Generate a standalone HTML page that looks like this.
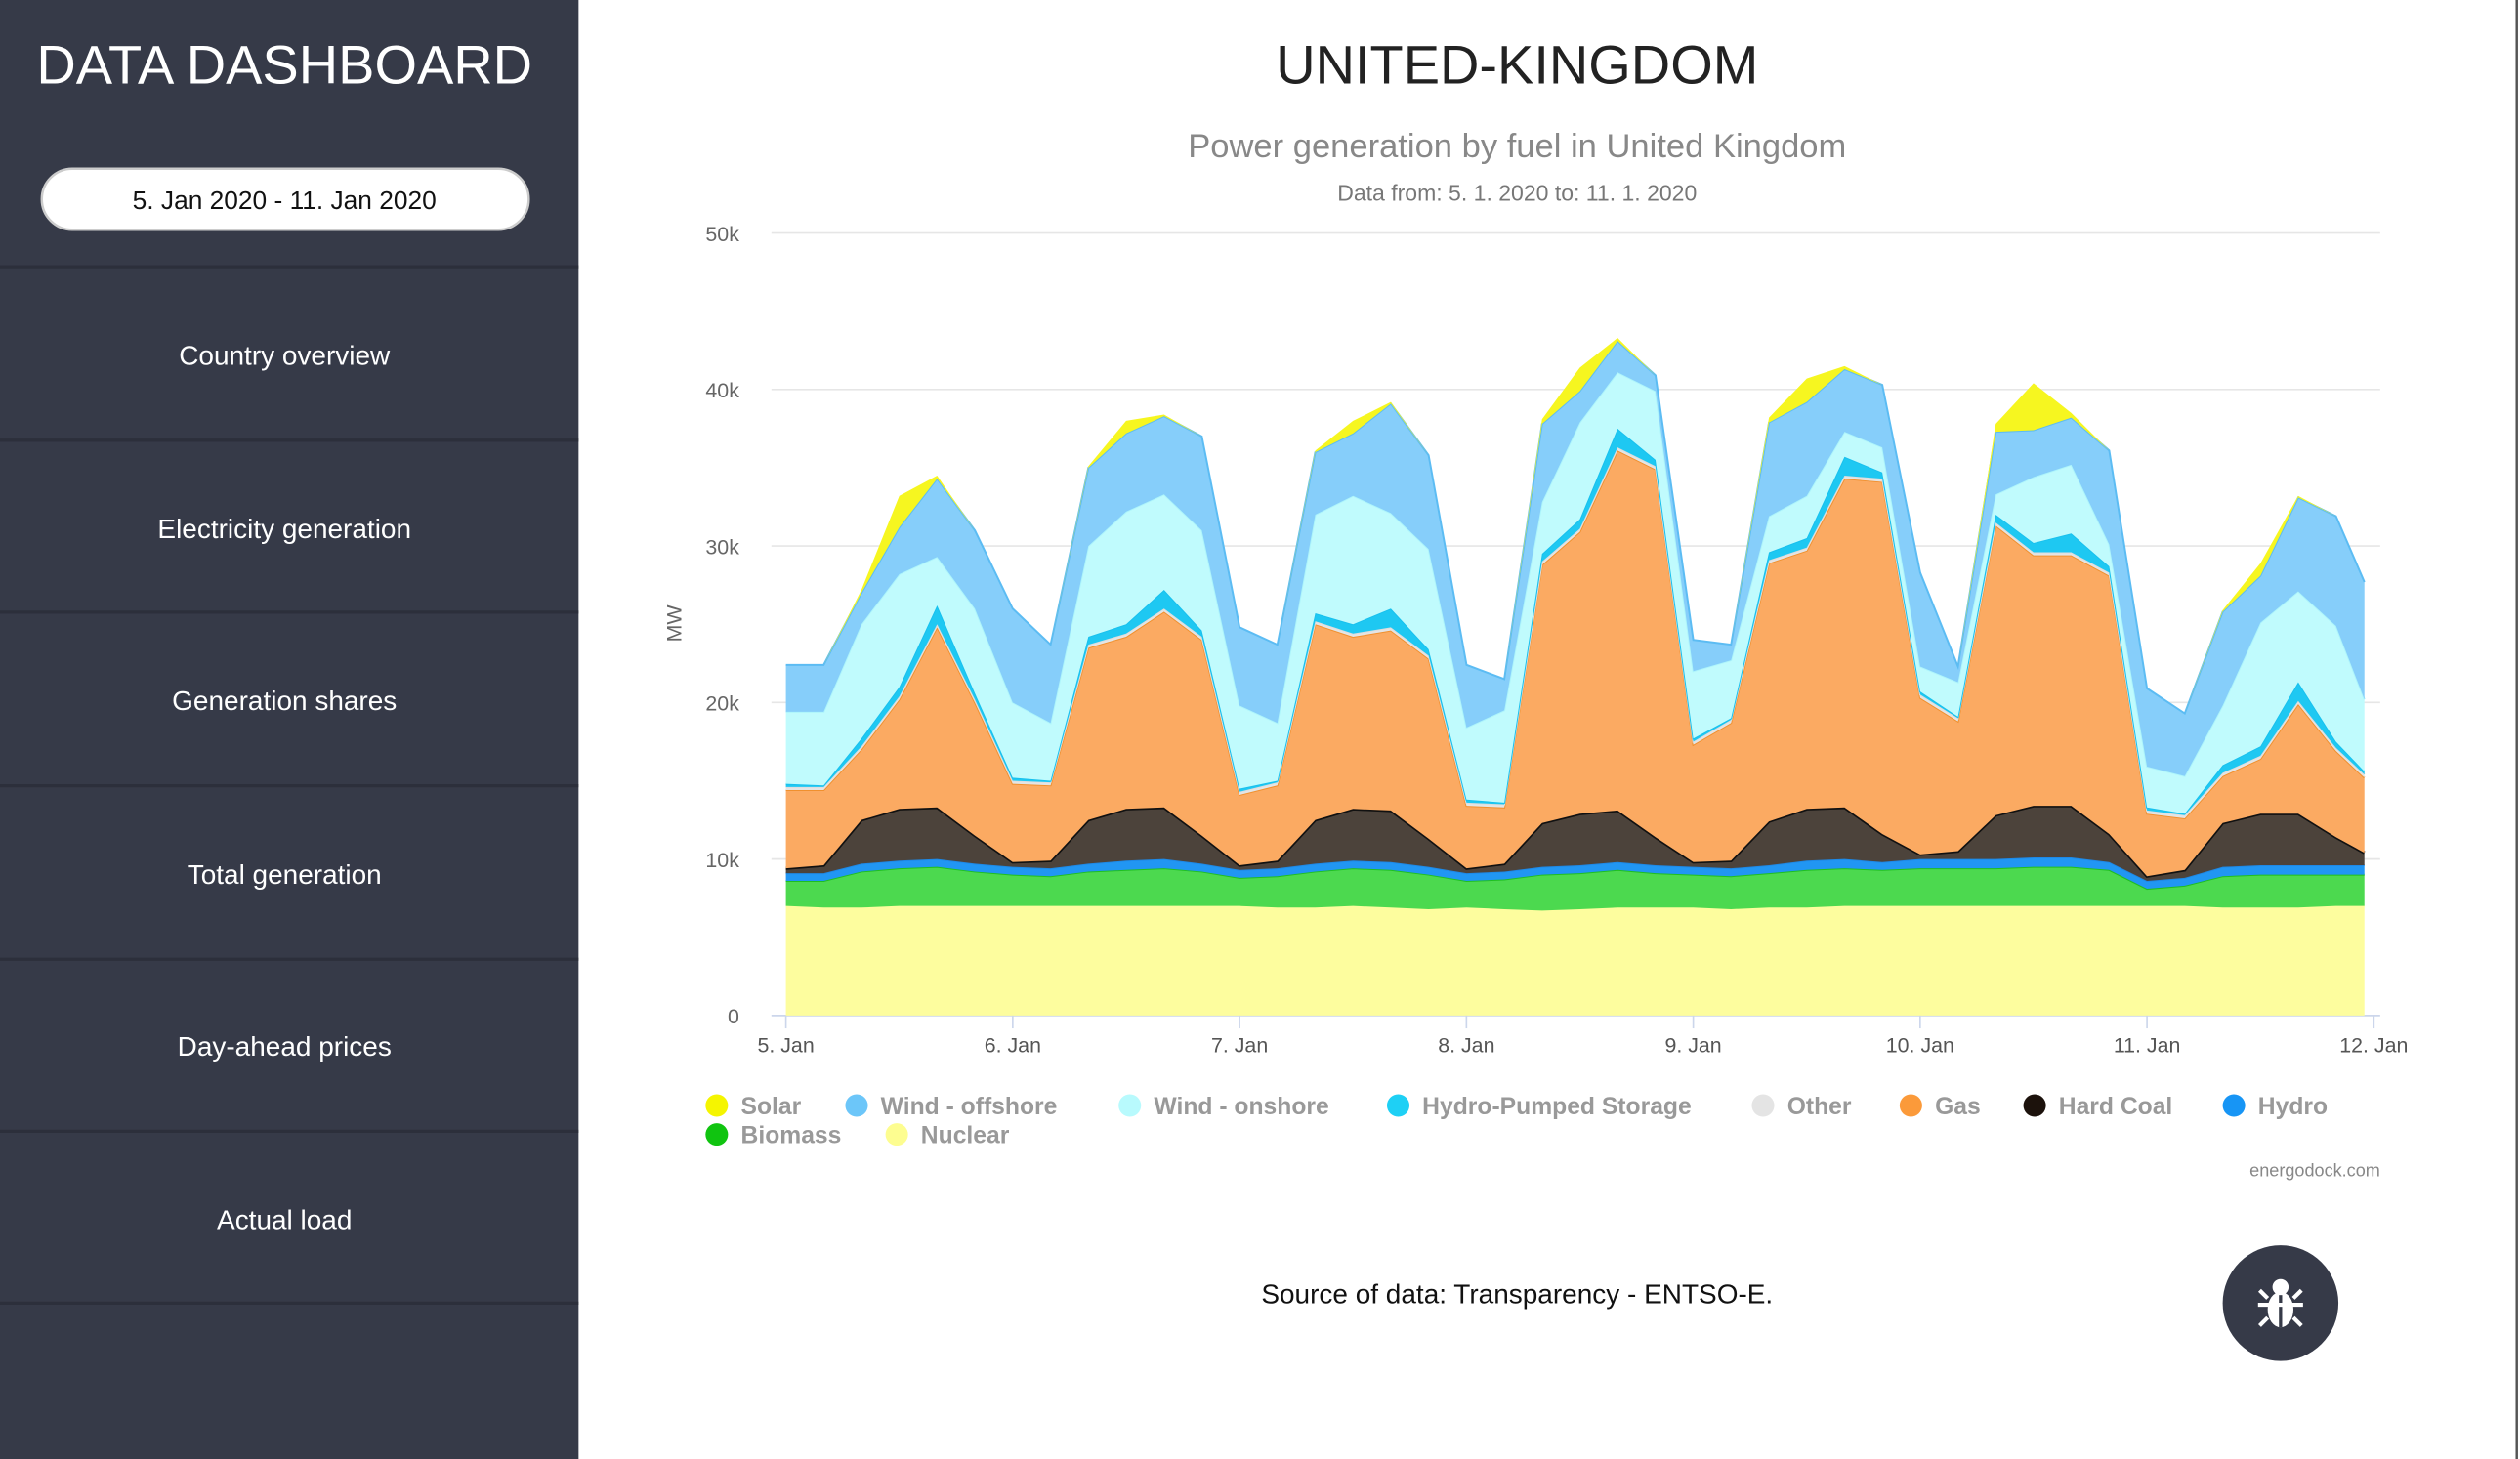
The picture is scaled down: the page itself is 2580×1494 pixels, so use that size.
<!DOCTYPE html>
<html><head><meta charset="utf-8">
<style>
html,body{margin:0;padding:0;background:#fff;}
svg{display:block;font-family:"Liberation Sans",sans-serif;}
</style></head>
<body>
<svg id="page" width="2580" height="1494" viewBox="0 0 1568 908" preserveAspectRatio="none">
  <g>
    <rect x="0" y="0" width="360" height="908" fill="#363a48"/>
    <text x="177" y="52" text-anchor="middle" font-size="34" fill="#fff">DATA DASHBOARD</text>
    <g>
      <rect x="26" y="105" width="303" height="38" rx="19" fill="#fff" stroke="#ccc" stroke-width="1.5"/>
      <text x="177" y="130" text-anchor="middle" font-size="16" fill="#111">5. Jan 2020 - 11. Jan 2020</text>
    </g>
    <g stroke="#2c2f3b" stroke-width="2">
      <line x1="0" y1="166" x2="360" y2="166"/><line x1="0" y1="274" x2="360" y2="274"/>
      <line x1="0" y1="381" x2="360" y2="381"/><line x1="0" y1="489" x2="360" y2="489"/>
      <line x1="0" y1="597" x2="360" y2="597"/><line x1="0" y1="704" x2="360" y2="704"/>
      <line x1="0" y1="811" x2="360" y2="811"/>
    </g>
    <g font-size="17" fill="#fff" text-anchor="middle">
      <text x="177" y="227">Country overview</text>
      <text x="177" y="335">Electricity generation</text>
      <text x="177" y="442">Generation shares</text>
      <text x="177" y="550">Total generation</text>
      <text x="177" y="657">Day-ahead prices</text>
      <text x="177" y="765">Actual load</text>
    </g>
  </g>
  <line x1="1566" y1="0" x2="1566" y2="908" stroke="#555" stroke-width="1.5"/>
  <text x="944" y="52" text-anchor="middle" font-size="34" fill="#222">UNITED-KINGDOM</text>
  <text x="944" y="98" text-anchor="middle" font-size="21" fill="#888">Power generation by fuel in United Kingdom</text>
  <text x="944" y="125" text-anchor="middle" font-size="14" fill="#777">Data from: 5. 1. 2020 to: 11. 1. 2020</text>
  <g id="chart"></g>
  <text x="1481" y="732" text-anchor="end" font-size="11" fill="#888">energodock.com</text>
  <text x="944" y="811" text-anchor="middle" font-size="17" fill="#111">Source of data: Transparency - ENTSO-E.</text>
  <g>
    <circle cx="1419" cy="811" r="36" fill="#363a48"/>
    <ellipse cx="1419" cy="815" rx="8" ry="11" fill="#fff"/>
    <circle cx="1419" cy="801" r="5" fill="#fff"/>
    <line x1="1419" y1="806" x2="1419" y2="826" stroke="#363a48" stroke-width="2"/>
    <g stroke="#fff" stroke-width="2.5"><line x1="1405" y1="812" x2="1433" y2="812"/><line x1="1406" y1="803" x2="1411" y2="808"/><line x1="1432" y1="803" x2="1427" y2="808"/><line x1="1406" y1="825" x2="1411" y2="820"/><line x1="1432" y1="825" x2="1427" y2="820"/></g>
  </g>
</svg>
<script>
const hours=[0,4,8,12,16,20,24,28,32,36,40,44,48,52,56,60,64,68,72,76,80,84,88,92,96,100,104,108,112,116,120,124,128,132,136,140,144,148,152,156,160,164,167];
const dayLabels=["5. Jan","6. Jan","7. Jan","8. Jan","9. Jan","10. Jan","11. Jan","12. Jan"];
const yTicks=[0,10,20,30,40,50];
const yTickLabels=["0","10k","20k","30k","40k","50k"];
const nuclear=[7,6.9,6.9,7,7,7,7,7,7,7,7,7,7,6.9,6.9,7,6.9,6.8,6.9,6.8,6.7,6.8,6.9,6.9,6.9,6.8,6.9,6.9,7,7,7,7,7,7,7,7,7,7,6.9,6.9,6.9,7,7];
const biomass=[1.6,1.7,2.3,2.4,2.5,2.2,2,1.9,2.2,2.3,2.4,2.2,1.8,2,2.3,2.4,2.4,2.2,1.7,1.9,2.3,2.3,2.4,2.2,2.1,2.1,2.2,2.4,2.4,2.3,2.4,2.4,2.4,2.5,2.5,2.3,1.1,1.3,2,2.1,2.1,2,2];
const hydro=[0.5,0.5,0.5,0.5,0.5,0.5,0.5,0.5,0.5,0.6,0.6,0.5,0.5,0.5,0.5,0.5,0.5,0.5,0.5,0.5,0.5,0.5,0.5,0.5,0.5,0.5,0.5,0.6,0.6,0.5,0.6,0.6,0.6,0.6,0.6,0.5,0.5,0.5,0.6,0.6,0.6,0.6,0.6];
const hardCoal=[0.3,0.5,2.8,3.3,3.3,1.8,0.3,0.5,2.8,3.3,3.3,1.8,0.3,0.5,2.8,3.3,3.3,1.8,0.3,0.5,2.8,3.3,3.3,1.8,0.3,0.5,2.8,3.3,3.3,1.8,0.3,0.5,2.8,3.3,3.3,1.8,0.3,0.5,2.8,3.3,3.3,1.8,0.8];
const gas=[5,4.8,4.5,7,11.5,8.5,5,4.8,11,11,12.5,12.5,4.5,4.8,12.5,11,11.5,11.5,4,3.6,16.5,18,23,23.5,7.5,8.8,16.5,16.5,21,22.5,10,8.3,18.5,16,16,16.5,4,3.3,3,3.5,7,5.5,4.8];
const other=[0.2,0.2,0.2,0.2,0.2,0.2,0.2,0.2,0.2,0.2,0.2,0.2,0.2,0.2,0.2,0.2,0.2,0.2,0.2,0.2,0.2,0.2,0.2,0.2,0.2,0.2,0.2,0.2,0.2,0.2,0.2,0.2,0.2,0.2,0.2,0.2,0.2,0.2,0.2,0.2,0.2,0.2,0.2];
const pumped=[0.2,0.1,0.5,0.6,1.2,0.4,0.2,0.1,0.5,0.6,1.2,0.4,0.2,0.1,0.5,0.6,1.2,0.4,0.2,0.1,0.5,0.6,1.2,0.4,0.2,0.1,0.5,0.6,1.2,0.4,0.2,0.1,0.5,0.6,1.2,0.4,0.2,0.1,0.5,0.6,1.2,0.4,0.2];
const windOnshore=[4.6,4.7,7.3,7.2,3.1,5.4,4.8,3.7,5.8,7.2,6.1,6.4,5.3,3.7,6.3,8.2,6.1,6.4,4.6,5.9,3.3,6.2,3.6,4.4,4.3,3.7,2.3,2.7,1.6,1.6,1.6,2.2,1.3,4.2,4.4,1.4,2.6,2.4,3.8,7.9,5.8,7.4,4.6];
const windOffshore=[3,3,2,3,5,5,6,5,5,5,5,6,5,5,4,4,7,6,4,2,5,2,2,1,2,1,6,6,4,4,6,1,4,3,3,6,5,4,6,3,6,7,7.5];
const solar=[0,0,0.2,2,0.2,0,0,0,0.1,0.8,0.1,0,0,0,0.1,0.8,0.1,0,0,0,0.3,1.5,0.2,0,0,0,0.3,1.5,0.2,0,0,0,0.5,3,0.3,0,0,0,0.1,0.8,0.1,0,0];

const seriesNames=["Nuclear","Biomass","Hydro","Hard Coal","Gas","Other","Hydro-Pumped Storage","Wind - onshore","Wind - offshore","Solar"];
const seriesValues=[nuclear,biomass,hydro,hardCoal,gas,other,pumped,windOnshore,windOffshore,solar];
const fills=["#fdfd9e","#4cd94f","#2196f3","#4c433b","#fbaa62","#e4e4e4","#1ec8f2","#c0fbfd","#86cefa","#f6f620"];
const strokes=["#fdfd9e","#1fbf1f","#1e88e5","#111","#f0902e","#ddd","#18c0ee","#aef5fb","#5cbcf3","none"];

const NS="http://www.w3.org/2000/svg";
const chart=document.getElementById('chart');
const X0=489, DAY=141.15, Y0=632, YK=9.74;
const xs=h=>X0+h/24*DAY;
const ys=v=>Y0-v*YK;
function mk(tag,attrs){const e=document.createElementNS(NS,tag);for(const k in attrs)e.setAttribute(k,attrs[k]);chart.appendChild(e);return e;}

yTicks.forEach((t,i)=>{
  const g=mk('line',{x1:480,x2:1481,y1:ys(t*1),y2:ys(t*1),stroke:i===0?'#ccd6eb':'#e6e6e6','stroke-width':1});
  
  
  const tx=mk('text',{x:460,y:ys(t)+5,'text-anchor':'end','font-size':13,fill:'#666'});
  tx.textContent=yTickLabels[i];
  
  
});
const mw=mk('text',{x:424,y:388,'text-anchor':'middle','font-size':13,fill:'#666',transform:'rotate(-90 424 388)'});
mw.textContent='MW';



const cum=hours.map(()=>0);
seriesValues.forEach((vals,s)=>{
  const top=cum.map((c,i)=>c+vals[i]);
  let d='M'+hours.map((h,i)=>xs(h).toFixed(1)+','+ys(top[i]).toFixed(1)).join('L');
  for(let i=hours.length-1;i>=0;i--)d+='L'+xs(hours[i]).toFixed(1)+','+ys(cum[i]).toFixed(1);
  d+='Z';
  const a=mk('path',{d:d,fill:fills[s]});
  
  
  const l=mk('path',{d:'M'+hours.map((h,i)=>xs(h).toFixed(1)+','+ys(top[i]).toFixed(1)).join('L'),fill:'none',stroke:strokes[s],'stroke-width':s===3?2:1.2});
  
  
  top.forEach((v,i)=>cum[i]=v);
});

dayLabels.forEach((lab,i)=>{
  const x=X0+i*DAY;
  const tk=mk('line',{x1:x,x2:x,y1:632,y2:640,stroke:'#ccd6eb'});
  
  
  const t=mk('text',{x:x,y:655,'text-anchor':'middle','font-size':13,fill:'#555'});
  t.textContent=lab;
  
  
});

const legendNames=["Solar","Wind - offshore","Wind - onshore","Hydro-Pumped Storage","Other","Gas","Hard Coal","Hydro","Biomass","Nuclear"];
const legendColors=["#f5f500","#6cc6f9","#b8fafd","#1ed0f5","#e4e4e4","#fb9a3a","#1c120c","#1795f5","#10c410","#fdfd90"];
const legendX=[446,533,703,870,1097,1189,1266,1390,446,558];
const legendY=[688,688,688,688,688,688,688,688,706,706];
legendNames.forEach((n,i)=>{
  const c=mk('circle',{cx:legendX[i],cy:legendY[i],r:7,fill:legendColors[i]});
  
  
  const t=mk('text',{x:legendX[i]+15,y:legendY[i]+5.5,'font-size':15,'font-weight':'bold',fill:'#999'});
  t.textContent=n;
  
  
});
</script>
</body></html>
